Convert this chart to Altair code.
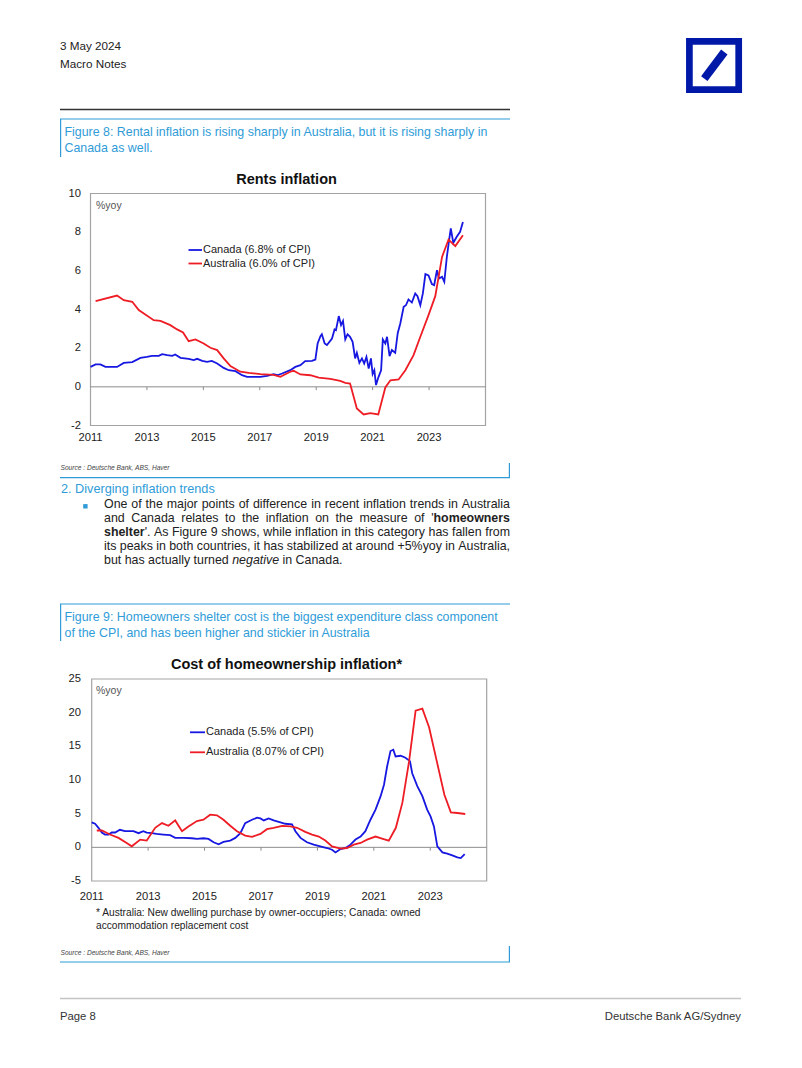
import altair as alt
import pandas as pd

# ---------------- data ----------------
rent_can_t = [2011.0, 2011.18, 2011.35, 2011.53, 2011.94, 2012.18, 2012.48, 2012.77, 2013.0, 2013.18,
              2013.42, 2013.54, 2013.72, 2013.9, 2014.0, 2014.19, 2014.48, 2014.66, 2014.78, 2014.96,
              2015.13, 2015.3, 2015.49, 2015.72, 2015.9, 2016.14, 2016.37, 2016.55, 2016.79, 2017.02,
              2017.26, 2017.49, 2017.62, 2017.79, 2018.08, 2018.26, 2018.44, 2018.61, 2018.85, 2018.97,
              2019.05, 2019.15, 2019.2, 2019.3, 2019.38, 2019.56, 2019.65, 2019.7, 2019.8, 2019.88,
              2019.95, 2020.03, 2020.11, 2020.2, 2020.29, 2020.38, 2020.44, 2020.53, 2020.62, 2020.7,
              2020.78, 2020.86, 2020.94, 2021.0, 2021.06, 2021.12, 2021.2, 2021.3, 2021.36, 2021.45,
              2021.51, 2021.6, 2021.68, 2021.8, 2021.89, 2021.98, 2022.1, 2022.18, 2022.27, 2022.39,
              2022.51, 2022.59, 2022.69, 2022.78, 2022.87, 2022.98, 2023.1, 2023.18, 2023.28, 2023.35,
              2023.46, 2023.54, 2023.63, 2023.71, 2023.77, 2023.86, 2023.98, 2024.1, 2024.2]
rent_can_v = [1.03, 1.16, 1.16, 1.03, 1.03, 1.24, 1.28, 1.5, 1.55, 1.6,
              1.6, 1.69, 1.64, 1.6, 1.67, 1.5, 1.45, 1.38, 1.45, 1.34,
              1.29, 1.34, 1.21, 0.98, 0.86, 0.81, 0.6, 0.52, 0.52, 0.52,
              0.57, 0.66, 0.6, 0.69, 0.86, 1.03, 1.12, 1.33, 1.34, 1.41,
              2.24, 2.62, 2.72, 2.24, 2.16, 2.5, 2.97, 2.93, 3.66, 3.19,
              3.41, 2.45, 2.72, 2.59, 2.33, 1.47, 1.76, 1.24, 1.47, 1.21,
              1.55, 0.95, 1.47, 0.66, 0.86, 0.09, 0.48, 0.86, 2.45, 2.24,
              2.59, 1.59, 1.9, 1.76, 2.79, 3.28, 4.14, 4.22, 4.52, 4.36,
              4.83, 4.69, 4.22, 4.83, 5.83, 5.76, 5.31, 5.26, 6.03, 5.6,
              5.69, 5.43, 6.72, 7.59, 8.19, 7.45, 7.76, 8.02, 8.53]
rent_aus_t = [2011.18, 2011.94, 2012.18, 2012.48, 2012.71, 2013.24, 2013.48, 2013.83, 2014.07, 2014.28,
              2014.48, 2014.72, 2015.01, 2015.25, 2015.49, 2015.72, 2015.96, 2016.31, 2016.61, 2017.02,
              2017.49, 2017.73, 2018.08, 2018.2, 2018.44, 2018.79, 2019.09, 2019.5, 2019.85, 2020.03,
              2020.2, 2020.44, 2020.68, 2020.92, 2021.2, 2021.45, 2021.63, 2021.92, 2022.16, 2022.45,
              2022.69, 2022.98, 2023.22, 2023.46, 2023.69, 2023.93, 2024.2]
rent_aus_v = [4.43, 4.72, 4.48, 4.40, 3.97, 3.45, 3.41, 3.19, 2.97, 2.81,
              2.36, 2.45, 2.24, 2.02, 1.90, 1.47, 1.07, 0.78, 0.72, 0.66,
              0.62, 0.52, 0.78, 0.83, 0.64, 0.60, 0.48, 0.41, 0.31, 0.21,
              0.17, -1.12, -1.43, -1.36, -1.43, -0.03, 0.34, 0.38, 0.86, 1.64,
              2.59, 3.71, 4.69, 6.72, 7.62, 7.28, 7.84]

home_can_t = [2011.0, 2011.12, 2011.24, 2011.36, 2011.47, 2011.6, 2011.71, 2011.83, 2012.0, 2012.18,
              2012.48, 2012.66, 2012.83, 2012.95, 2013.13, 2013.3, 2013.54, 2013.78, 2013.96, 2014.25,
              2014.55, 2014.73, 2014.96, 2015.14, 2015.32, 2015.5, 2015.67, 2015.91, 2016.09, 2016.27,
              2016.44, 2016.68, 2016.86, 2016.98, 2017.1, 2017.27, 2017.45, 2017.69, 2017.86, 2018.1,
              2018.22, 2018.4, 2018.63, 2018.87, 2019.1, 2019.34, 2019.52, 2019.64, 2019.82, 2020.0,
              2020.17, 2020.35, 2020.53, 2020.7, 2020.88, 2021.06, 2021.24, 2021.36, 2021.47, 2021.59,
              2021.69, 2021.77, 2021.95, 2022.12, 2022.28, 2022.36, 2022.54, 2022.72, 2022.89, 2023.01,
              2023.13, 2023.25, 2023.43, 2023.6, 2023.78, 2023.96, 2024.08, 2024.22]
home_can_v = [3.7, 3.5, 2.9, 2.2, 1.9, 1.9, 2.2, 2.2, 2.6, 2.4,
              2.4, 2.1, 2.4, 2.2, 2.1, 2.0, 1.9, 1.8, 1.4, 1.4,
              1.35, 1.25, 1.35, 1.25, 0.75, 0.45, 0.8, 1.0, 1.4, 2.1,
              3.6, 4.1, 4.4, 4.3, 4.0, 4.3, 4.0, 3.7, 3.5, 3.4,
              2.4, 1.4, 0.75, 0.4, 0.15, -0.1, -0.35, -0.75, -0.25, -0.1,
              0.4, 1.15, 1.6, 2.4, 4.1, 5.6, 7.6, 9.3, 12.0, 14.3,
              14.5, 13.5, 13.6, 13.3, 12.8, 11.0, 9.1, 7.6, 5.6, 4.6,
              3.1, 0.15, -0.75, -0.95, -1.2, -1.5, -1.6, -1.0]
home_aus_t = [2011.18, 2011.36, 2011.65, 2011.95, 2012.24, 2012.42, 2012.72, 2012.95, 2013.25, 2013.49,
              2013.72, 2013.96, 2014.2, 2014.43, 2014.73, 2014.96, 2015.2, 2015.44, 2015.67, 2015.91,
              2016.15, 2016.44, 2016.68, 2016.98, 2017.21, 2017.45, 2017.75, 2018.04, 2018.28, 2018.57,
              2018.81, 2019.05, 2019.28, 2019.52, 2019.82, 2020.05, 2020.29, 2020.53, 2020.76, 2021.06,
              2021.29, 2021.53, 2021.78, 2022.01, 2022.25, 2022.48, 2022.72, 2022.96, 2023.23, 2023.5,
              2023.73, 2023.96, 2024.24]
home_aus_v = [2.5, 2.5, 1.9, 1.4, 0.65, 0.15, 1.15, 1.0, 2.9, 3.6,
              3.2, 4.0, 2.4, 3.1, 3.9, 4.1, 4.85, 4.75, 4.1, 3.2,
              2.4, 1.75, 1.55, 2.0, 2.7, 2.9, 3.2, 3.1, 2.9, 2.3,
              1.9, 1.6, 1.0, 0.15, -0.2, -0.1, 0.4, 0.65, 1.15, 1.6,
              1.3, 1.0, 2.9, 6.6, 12.8, 20.3, 20.6, 17.8, 12.8, 7.8,
              5.2, 5.1, 4.95]

x_tick_years = [2011, 2013, 2015, 2017, 2019, 2021, 2023]
rent_y_ticks = [-2, 0, 2, 4, 6, 8, 10]
home_y_ticks = [-5, 0, 5, 10, 15, 20, 25]
series_names = ["Canada", "Australia"]
rent_legend = ["Canada (6.8% of CPI)", "Australia (6.0% of CPI)"]
home_legend = ["Canada (5.5% of CPI)", "Australia (8.07% of CPI)"]

# ---------------- style ----------------
BLUE = "#1717E2"
RED = "#EE1C24"
DB_BLUE = "#0018A8"
CAP_BLUE = "#2F9CD8"
TXT = "#222222"
FONT = "Liberation Sans, Arial, Helvetica, sans-serif"
M = 8
W, H = 786, 1052


def px(v):
    return v - M


# Arial / Liberation Sans advance widths (per 1000 em)
REG = {' ': 278, '!': 278, '"': 355, '%': 889, "'": 191, '(': 333, ')': 333, '*': 389, '+': 584,
       ',': 278, '-': 333, '.': 278, '/': 278, ':': 278, ';': 278, '?': 556}
for ch, wv in zip("ABCDEFGHIJKLMNOPQRSTUVWXYZ",
                  [667, 667, 722, 722, 667, 611, 778, 722, 278, 500, 667, 556, 833, 722, 778, 667, 778,
                   722, 667, 611, 722, 667, 944, 667, 667, 611]):
    REG[ch] = wv
for ch, wv in zip("abcdefghijklmnopqrstuvwxyz",
                  [556, 556, 500, 556, 556, 278, 556, 556, 222, 222, 500, 222, 833, 556, 556, 556, 556,
                   333, 500, 278, 556, 500, 722, 500, 500, 500]):
    REG[ch] = wv
BOLD = dict(REG)
for ch, wv in zip("abcdefghijklmnopqrstuvwxyz",
                  [556, 611, 556, 611, 556, 333, 611, 611, 278, 278, 556, 278, 889, 611, 611, 611, 611,
                   389, 556, 333, 611, 556, 778, 556, 556, 500]):
    BOLD[ch] = wv
BOLD["'"] = 238


def tw(s, size, st="n"):
    tab = BOLD if st == "b" else REG
    return sum(tab.get(c, 556) for c in s) / 1000.0 * size


texts = []


def add_text(x, y, s, size, color=TXT, weight="normal", style="normal", align="left"):
    texts.append(dict(x=px(x), y=px(y), text=s, size=size, color=color,
                      weight=weight, style=style, align=align))


def words(s, st="n"):
    return [[(w, st)] for w in s.split()]


def layout_line(wlist, y, x0, x1, size, justify=True, color=TXT):
    widths = [sum(tw(seg, size, st) for seg, st in wd) for wd in wlist]
    total = sum(widths)
    gap = (x1 - x0 - total) / (len(wlist) - 1) if justify else tw(" ", size)
    x = x0
    for wd, ww in zip(wlist, widths):
        xx = x
        for seg, st in wd:
            add_text(xx, y, seg, size, color=color,
                     weight="bold" if st == "b" else "normal",
                     style="italic" if st == "i" else "normal")
            xx += tw(seg, size, st)
        x += ww + gap


# ---------------- page texts ----------------
add_text(60, 46, "3 May 2024", 11.7)
add_text(60, 63.5, "Macro Notes", 11.7)

add_text(64.5, 131.5, "Figure 8: Rental inflation is rising sharply in Australia, but it is rising sharply in", 12.4, CAP_BLUE)
add_text(64.5, 147.5, "Canada as well.", 12.4, CAP_BLUE)

add_text(286.5, 180, "Rents inflation", 14.5, "#111111", weight="bold", align="center")
add_text(96, 206, "%yoy", 10.5, "#555555")
add_text(203, 250, rent_legend[0], 11)
add_text(203, 263.5, rent_legend[1], 11)

add_text(60.5, 467.5, "Source : Deutsche Bank, ABS, Haver", 6.6, "#444444", style="italic")
add_text(61, 488.5, "2. Diverging inflation trends", 12.7, CAP_BLUE)

PS = 12.4
layout_line(words("One of the major points of difference in recent inflation trends in Australia"), 504.3, 104, 510, PS)
layout_line(words("and Canada relates to the inflation on the measure of") + [[("'", "n"), ("homeowners", "b")]],
            518.3, 104, 510, PS)
layout_line([[("shelter", "b"), ("'.", "n")]] + words("As Figure 9 shows, while inflation in this category has fallen from"),
            532.3, 104, 510, PS)
layout_line(words("its peaks in both countries, it has stabilized at around +5%yoy in Australia,"), 546.2, 104, 510, PS)
layout_line(words("but has actually turned") + [[("negative", "i")]] + words("in Canada."), 560.2, 104, 510, PS,
            justify=False)

add_text(64.5, 617, "Figure 9: Homeowners shelter cost is the biggest expenditure class component", 12.4, CAP_BLUE)
add_text(64.5, 633, "of the CPI, and has been higher and stickier in Australia", 12.4, CAP_BLUE)

add_text(286.5, 665, "Cost of homeownership inflation*", 14.5, "#111111", weight="bold", align="center")
add_text(96, 691, "%yoy", 10.5, "#555555")
add_text(206, 732.3, home_legend[0], 11)
add_text(206, 752.3, home_legend[1], 11)
add_text(96, 913.3, "* Australia: New dwelling purchase by owner-occupiers; Canada: owned", 10.2)
add_text(96, 926.3, "accommodation replacement cost", 10.2)

add_text(60.5, 952.5, "Source : Deutsche Bank, ABS, Haver", 6.6, "#444444", style="italic")

add_text(60, 1017, "Page 8", 11.3, "#333333")
add_text(741, 1017, "Deutsche Bank AG/Sydney", 11.3, "#333333", align="right")

# ---------------- page rules ----------------
rules = []


def add_rule(x1, y1, x2, y2, color, width):
    rules.append(dict(x=px(x1), y=px(y1), x2=px(x2), y2=px(y2), c=color, w=width))


add_rule(60, 109.5, 510, 109.5, "#333333", 1.3)
add_rule(60, 119, 510, 119, CAP_BLUE, 1.2)
add_rule(60.6, 119, 60.6, 157, CAP_BLUE, 1.2)
add_rule(60, 477.7, 510, 477.7, CAP_BLUE, 1.2)
add_rule(509.4, 463, 509.4, 477.7, CAP_BLUE, 1.2)
add_rule(60, 604, 510, 604, CAP_BLUE, 1.2)
add_rule(60.6, 604, 60.6, 641, CAP_BLUE, 1.2)
add_rule(60, 962, 510, 962, CAP_BLUE, 1.2)
add_rule(509.4, 946, 509.4, 962, CAP_BLUE, 1.2)
add_rule(60, 998.5, 741, 998.5, "#c4c4c4", 1.5)
add_rule(188.5, 250, 202, 250, BLUE, 1.8)
add_rule(188.5, 263.5, 202, 263.5, RED, 1.8)
add_rule(190, 732.3, 205, 732.3, BLUE, 1.8)
add_rule(190, 752.3, 205, 752.3, RED, 1.8)
add_rule(704.3, 78.7, 724.3, 52, DB_BLUE, 8)

layers = []

# text layers grouped by style
tdf = pd.DataFrame(texts)
for (wt, st, al), g in tdf.groupby(["weight", "style", "align"]):
    layers.append(
        alt.Chart(g.reset_index(drop=True)).mark_text(
            font=FONT, fontWeight=wt, fontStyle=st, align=al, baseline="middle"
        ).encode(
            x=alt.X("x:Q", scale=None, axis=None),
            y=alt.Y("y:Q", scale=None, axis=None),
            text="text:N",
            size=alt.Size("size:Q", scale=None, legend=None),
            color=alt.Color("color:N", scale=None, legend=None),
        )
    )

layers.append(
    alt.Chart(pd.DataFrame(rules)).mark_rule(strokeCap="butt").encode(
        x=alt.X("x:Q", scale=None, axis=None), x2="x2:Q",
        y=alt.Y("y:Q", scale=None, axis=None), y2="y2:Q",
        color=alt.Color("c:N", scale=None, legend=None),
        strokeWidth=alt.StrokeWidth("w:Q", scale=None, legend=None),
    )
)

# logo box and bullet
layers.append(
    alt.Chart(pd.DataFrame({"k": [0]})).mark_rect(fillOpacity=0, stroke=DB_BLUE, strokeWidth=6.7).encode(
        x=alt.value(px(689.4)), x2=alt.value(px(738.7)), y=alt.value(px(41.4)), y2=alt.value(px(89.7))
    )
)
layers.append(
    alt.Chart(pd.DataFrame({"k": [0]})).mark_rect(color=CAP_BLUE).encode(
        x=alt.value(px(83.2)), x2=alt.value(px(87.6)), y=alt.value(px(504.1)), y2=alt.value(px(508.5))
    )
)


# ---------------- charts ----------------
def chart_layers(xs, ys, can_t, can_v, aus_t, aus_v, y_ticks, ylo, yhi, tick_len, ylab_x, xlab_y):
    out = []
    frame = pd.DataFrame({"a": [2011], "b": [2025], "c": [ylo], "d": [yhi]})
    out.append(alt.Chart(frame).mark_rect(fillOpacity=0, stroke="#a3a3a3", strokeWidth=1.2).encode(
        x=alt.X("a:Q", scale=xs, axis=None), x2="b:Q",
        y=alt.Y("c:Q", scale=ys, axis=None), y2="d:Q"))
    zero = pd.DataFrame({"a": [2011], "b": [2025], "z": [0]})
    out.append(alt.Chart(zero).mark_rule(color="#8c8c8c", strokeWidth=1).encode(
        x=alt.X("a:Q", scale=xs, axis=None), x2="b:Q",
        y=alt.Y("z:Q", scale=ys, axis=None)))
    ticks = pd.DataFrame({"t": x_tick_years[1:], "z": [0] * 6, "z2": [-tick_len] * 6})
    out.append(alt.Chart(ticks).mark_rule(color="#8c8c8c", strokeWidth=1).encode(
        x=alt.X("t:Q", scale=xs, axis=None),
        y=alt.Y("z:Q", scale=ys, axis=None), y2="z2:Q"))
    df = pd.DataFrame({"t": can_t + aus_t, "v": can_v + aus_v,
                       "s": ["Canada"] * len(can_t) + ["Australia"] * len(aus_t)})
    out.append(alt.Chart(df).mark_line(strokeWidth=1.8).encode(
        x=alt.X("t:Q", scale=xs, axis=None),
        y=alt.Y("v:Q", scale=ys, axis=None),
        color=alt.Color("s:N", scale=alt.Scale(domain=series_names, range=[BLUE, RED]), legend=None),
        order=alt.Order("t:Q")))
    ylab = pd.DataFrame({"v": y_ticks, "lab": [str(v) for v in y_ticks]})
    out.append(alt.Chart(ylab).mark_text(font=FONT, fontSize=11.2, color=TXT, align="right",
                                         baseline="middle").encode(
        x=alt.value(px(ylab_x)), y=alt.Y("v:Q", scale=ys, axis=None), text="lab:N"))
    xlab = pd.DataFrame({"t": x_tick_years, "lab": [str(v) for v in x_tick_years]})
    out.append(alt.Chart(xlab).mark_text(font=FONT, fontSize=11.2, color=TXT, align="center",
                                         baseline="middle").encode(
        x=alt.X("t:Q", scale=xs, axis=None), y=alt.value(px(xlab_y)), text="lab:N"))
    return out


c1x = alt.Scale(domain=[2011, 2025], range=[px(90.5), px(485.5)], nice=False, zero=False)
c1y = alt.Scale(domain=[-2, 10], range=[px(425.5), px(193.5)], nice=False, zero=False)
c2x = alt.Scale(domain=[2011, 2025], range=[px(91.7), px(486.7)], nice=False, zero=False)
c2y = alt.Scale(domain=[-5, 25], range=[px(881), px(679)], nice=False, zero=False)

layers += chart_layers(c1x, c1y, rent_can_t, rent_can_v, rent_aus_t, rent_aus_v, rent_y_ticks,
                       -2, 10, 0.17, 81, 437.5)
layers += chart_layers(c2x, c2y, home_can_t, home_can_v, home_aus_t, home_aus_v, home_y_ticks,
                       -5, 25, 0.5, 81, 897)

chart = alt.layer(*layers).resolve_scale(
    x="independent", y="independent", color="independent", size="independent",
    strokeWidth="independent"
).properties(
    width=W, height=H, padding=0, background="white",
    autosize=alt.AutoSizeParams(type="none")
).configure_view(strokeWidth=0)

chart.save("out.html", embed_options={"renderer": "svg", "actions": False})
